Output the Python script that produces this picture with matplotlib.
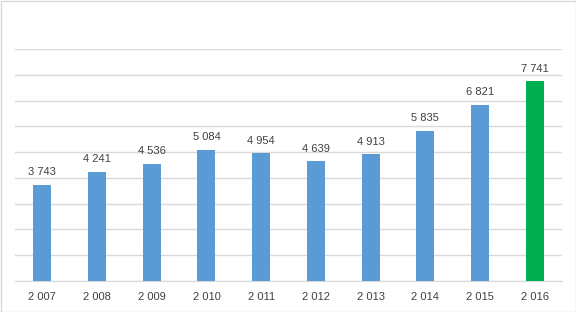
import matplotlib.pyplot as plt
from matplotlib.patches import Rectangle

years = ['2 007', '2 008', '2 009', '2 010', '2 011', '2 012', '2 013', '2 014', '2 015', '2 016']
values = [3743, 4241, 4536, 5084, 4954, 4639, 4913, 5835, 6821, 7741]

blue = '#5B9BD5'
green = '#00B050'
text_color = '#404040'
grid_color = '#D9D9D9'


def fmt(v):
    return '{:,}'.format(v).replace(',', ' ')


fig = plt.figure(figsize=(5.76, 3.12), dpi=100)
ax = fig.add_axes([15 / 576, 31 / 312, 547 / 576, 232 / 312])

colors = [blue] * (len(values) - 1) + [green]
x = range(len(values))
bars = ax.bar(x, values, width=0.33, color=colors, zorder=3)

for b, v in zip(bars, values):
    ax.text(b.get_x() + b.get_width() / 2, v + 300, fmt(v),
            ha='center', va='bottom', fontsize=8, color=text_color,
            family='Liberation Sans')

ax.set_xlim(-0.5, len(values) - 0.5)
ax.set_ylim(0, 9000)
ax.set_yticks(range(0, 9001, 1000))
ax.set_yticklabels([])
ax.yaxis.grid(True, color=grid_color, linewidth=1)
ax.tick_params(axis='y', length=0)
ax.set_xticks(list(x))
ax.set_xticklabels(years, fontsize=8, color=text_color, family='Liberation Sans')
ax.tick_params(axis='x', length=0, pad=8)

for s in ['top', 'right', 'left']:
    ax.spines[s].set_visible(False)
ax.spines['bottom'].set_color(grid_color)

# outer border of the chart
fig.patches.append(Rectangle((0.5 / 576, 0.5 / 312), 575 / 576, 311 / 312,
                             transform=fig.transFigure, fill=False,
                             edgecolor=grid_color, linewidth=1))

plt.savefig('out.png', dpi=100)
